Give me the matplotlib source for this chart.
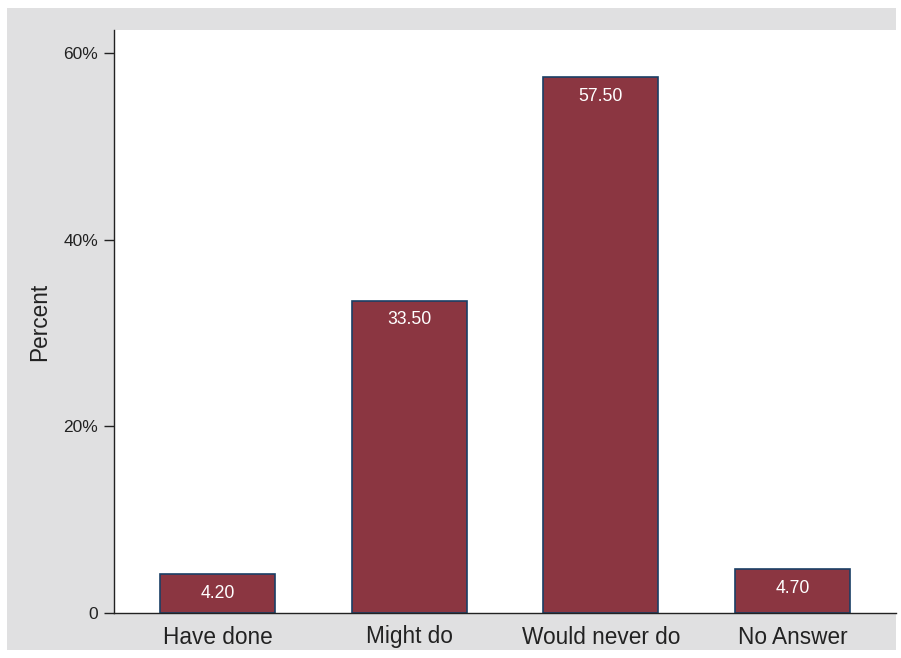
import matplotlib
matplotlib.use("Agg")
import matplotlib.pyplot as plt
from matplotlib.patches import Rectangle
from matplotlib.ticker import FixedLocator

categories = ["Have done", "Might do", "Would never do", "No Answer"]
values = [4.20, 33.50, 57.50, 4.70]
yticks = [0, 20, 40, 60]
ytick_labels = ["0", "20%", "40%", "60%"]

plt.rcParams['font.family'] = ['Liberation Sans', 'DejaVu Sans']

W, H = 901, 658
fig = plt.figure(figsize=(W / 100, H / 100), dpi=100)
fig.patch.set_facecolor("white")
fig.patches.append(Rectangle((7 / W, 1 - 650 / H), (896 - 7) / W, (650 - 8) / H,
                             transform=fig.transFigure, facecolor="#e0e0e1",
                             edgecolor="none", zorder=-10))

ax = fig.add_axes([114 / W, (H - 613) / H, (896 - 114) / W, (613 - 30) / H])
ax.set_zorder(5)
ax.set_facecolor("white")
x = list(range(len(categories)))
bars = ax.bar(x, values, width=0.6, color="#8b3641", edgecolor="#1a3f66", linewidth=1.2)
for xi, v in zip(x, values):
    ax.annotate(f"{v:.2f}", (xi, v), xytext=(0, -14), textcoords="offset points",
                ha="center", va="center", color="white", fontsize=12.7)

ax.set_xlim(-0.54, 3.54)
ax.set_ylim(0, 62.5)
ax.yaxis.set_major_locator(FixedLocator(yticks))
ax.set_yticklabels(ytick_labels, fontsize=12.5, color="#222222")
ax.set_xticks(x)
ax.set_xticklabels(categories, fontsize=16.3, color="#222222")
ax.tick_params(axis="x", length=0, pad=9)
ax.tick_params(axis="y", length=7.5, width=1, pad=4, color="#222222")
for s in ["top", "right"]:
    ax.spines[s].set_visible(False)
for s in ["left", "bottom"]:
    ax.spines[s].set_color("#222222")
    ax.spines[s].set_linewidth(1.0)
ax.set_ylabel("Percent", fontsize=16.3, color="#222222", labelpad=9)

fig.savefig("out.png", dpi=100)
